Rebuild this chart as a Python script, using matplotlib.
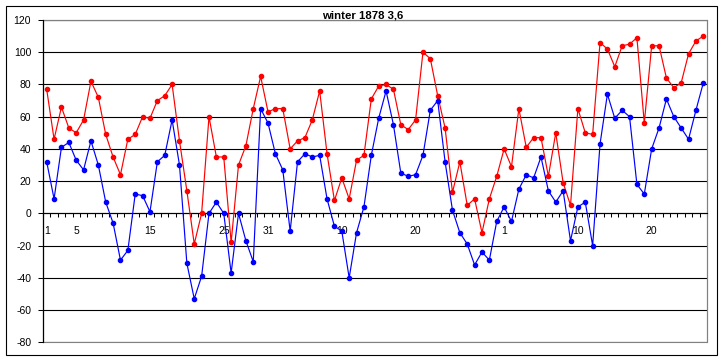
"""
Winter 1878 daily series (Dec - Feb), Excel-style line chart with two series.
"""

import matplotlib
matplotlib.use("Agg")
import matplotlib.pyplot as plt
import matplotlib.patches as mpatches

# category labels (only a few days carry a label)
LABEL_POS = [0, 4, 14, 24, 30, 40, 50, 62, 72, 82]
LABEL_TXT = ["1", "5", "15", "25", "31", "10", "20", "1", "10", "20"]

RED_VALUES = [
    77, 46, 66, 53, 50, 58, 82, 72, 49, 35,
    24, 46, 49, 60, 59, 70, 73, 80, 45, 14,
    -19, 0, 60, 35, 35, -18, 30, 42, 65, 85,
    63, 65, 65, 40, 45, 47, 58, 76, 37, 8,
    22, 9, 33, 36, 71, 79, 80, 77, 55, 52,
    58, 100, 96, 73, 53, 13, 32, 5, 9, -12,
    9, 23, 40, 29, 65, 41, 47, 47, 23, 50,
    19, 5, 65, 50, 49, 106, 102, 91, 104, 105,
    109, 56, 104, 104, 84, 78, 81, 99, 107, 110,
]

BLUE_VALUES = [
    32, 9, 41, 44, 33, 27, 45, 30, 7, -6,
    -29, -23, 12, 11, 1, 32, 36, 58, 30, -31,
    -53, -39, 0, 7, 0, -37, 0, -17, -30, 65,
    56, 37, 27, -11, 32, 37, 35, 36, 9, -8,
    -11, -40, -12, 4, 36, 59, 76, 55, 25, 23,
    24, 36, 64, 70, 32, 2, -12, -19, -32, -24,
    -29, -5, 4, -5, 15, 24, 22, 35, 14, 7,
    14, -17, 4, 7, -20, 43, 74, 59, 64, 60,
    18, 12, 40, 53, 71, 60, 53, 46, 64, 81,
]

TITLE = "winter 1878 3,6"

plt.rcParams["font.family"] = ["Liberation Sans", "DejaVu Sans"]
plt.rcParams["axes.unicode_minus"] = False

fig = plt.figure(figsize=(7.23, 3.61), dpi=100)
ax = fig.add_axes([43 / 723, 1 - 342.3 / 361, 664 / 723, 322.3 / 361])

n = len(RED_VALUES)
x = list(range(n))

ax.plot(x, RED_VALUES, color="#ff0000", lw=0.85, marker="o", ms=3.0,
        mec="#ff0000", mfc="#ff0000", zorder=4, clip_on=False)
ax.plot(x, BLUE_VALUES, color="#0000ff", lw=0.85, marker="o", ms=3.0,
        mec="#0000ff", mfc="#0000ff", zorder=4, clip_on=False)

ax.set_xlim(-0.5, n - 0.5)
ax.set_ylim(-80, 120)
ax.set_yticks(range(-80, 121, 20))
ax.yaxis.grid(True, color="black", lw=0.8)
ax.set_axisbelow(True)

# category axis crosses at zero, ticks between categories
ax.spines["bottom"].set_position(("data", 0))
ax.spines["bottom"].set_color("black")
ax.spines["bottom"].set_linewidth(0.8)
ax.spines["bottom"].set_zorder(3)
ax.set_xticks([k - 0.5 for k in range(n + 1)])
ax.set_xticklabels([])
ax.tick_params(axis="x", which="major", direction="out", length=3, width=0.75)
ax.set_xticks(LABEL_POS, minor=True)
ax.set_xticklabels(LABEL_TXT, minor=True)
ax.tick_params(axis="x", which="minor", length=0, pad=9, labelsize=7.5)

ax.tick_params(axis="y", direction="out", length=3.5, width=0.75, labelsize=7.5, pad=5)

for side in ["top", "right"]:
    ax.spines[side].set_color("#808080")
    ax.spines[side].set_linewidth(0.8)
ax.spines["left"].set_color("black")
ax.spines["left"].set_linewidth(0.8)

# grey plot-area border
ax.add_patch(mpatches.Rectangle((0, 0), 1, 1, transform=ax.transAxes, fill=False,
                                edgecolor="#808080", lw=0.8, zorder=2.5, clip_on=False))
ax.plot([0, 0], [0, 1], transform=ax.transAxes, color="black", lw=0.8,
        zorder=3, clip_on=False)

# chart outer frame
fig.patches.append(mpatches.Rectangle((5.5 / 723, 1 - 355 / 361), 711 / 723, 349.5 / 361,
                                      transform=fig.transFigure, fill=False,
                                      edgecolor="black", lw=0.8))

fig.text(363 / 723, 1 - 15 / 361, TITLE, ha="center", va="center",
         fontsize=8.2, fontweight="bold")

fig.savefig("out.png", dpi=100)
